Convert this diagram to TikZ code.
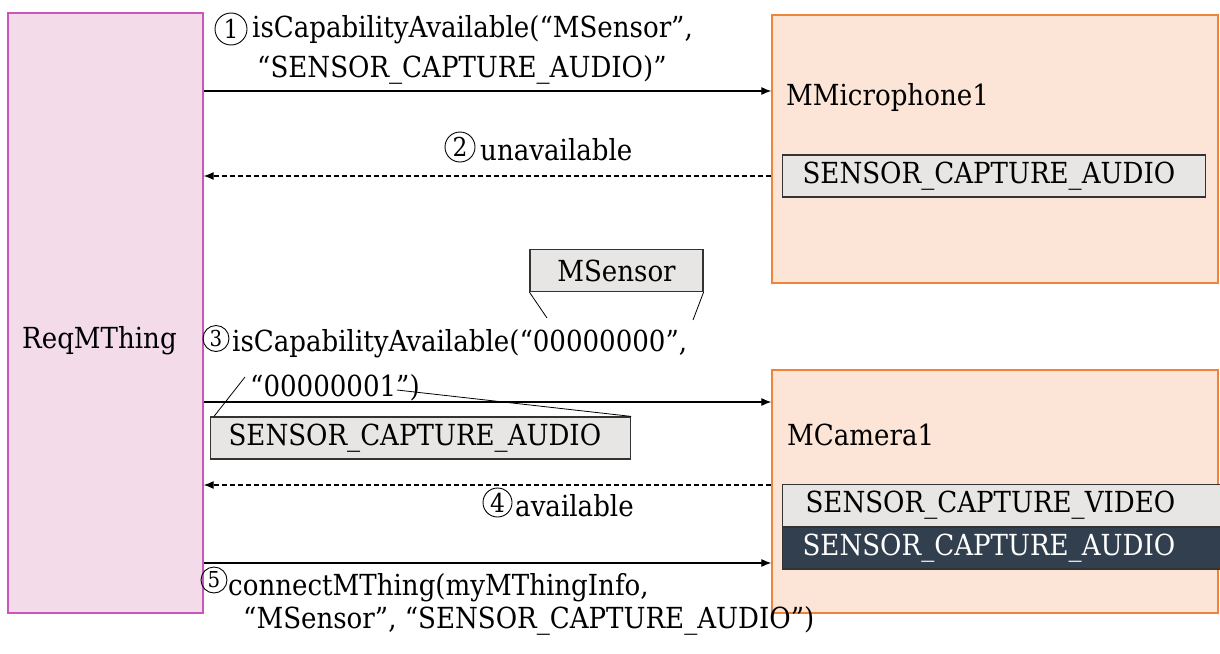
\documentclass[tikz,border=0pt]{standalone}
\usepackage{fontspec}
\setmainfont{DejaVu Serif Condensed}
\usetikzlibrary{positioning}
\usetikzlibrary{arrows.meta}
\definecolor{reqfill}{RGB}{243,219,234}
\definecolor{reqline}{RGB}{200,87,185}
\definecolor{thingfill}{RGB}{252,228,214}
\definecolor{thingline}{RGB}{238,132,58}
\definecolor{capfill}{RGB}{231,230,229}
\definecolor{capdark}{RGB}{50,63,79}

\begin{document}
\begin{tikzpicture}[x=1pt,y=-1pt,font=\fontsize{29}{34}\selectfont,
  req/.style = {draw=reqline, fill=reqfill, line width=1.3pt, minimum width=195pt, minimum height=600pt},
  thing/.style = {draw=thingline, fill=thingfill, line width=1.3pt, minimum width=446pt},
  capbox/.style = {draw=black!80, fill=capfill, line width=1.2pt, anchor=west, minimum height=42pt, inner ysep=0pt, align=left},
  txt/.style = {anchor=base west, inner sep=0pt},
  stepno/.style = {draw, circle, inner sep=0pt, minimum size=30pt, line width=0.9pt, font=\fontsize{26}{26}\selectfont},
  smallstep/.style = {stepno, minimum size=26pt, font=\fontsize{22}{22}\selectfont},
  msg/.style = {-{Latex[length=10pt,width=8pt]}, line width=1.1pt},
  reply/.style = {msg, dash pattern=on 5pt off 3pt}]
  \useasboundingbox (0,0) rectangle (1220,653);
  % boxes
  \node[req] (req) at (105.5,313) {};
  \node[txt] at (22,348) {ReqMThing};
  \node[thing, minimum height=268pt] (mic) at (995,149) {};
  \node[txt] at (786,105) {MMicrophone1};
  \node[capbox, text width=383pt, inner xsep=20pt] (micaudio) at (782,176) {SENSOR\_CAPTURE\_AUDIO};
  \node[thing, minimum height=243pt] (cam) at (995,491.5) {};
  \node[txt] at (787,445) {MCamera1};
  \node[capbox, text width=400pt, inner xsep=23pt] (camvideo) at (782,505.5) {SENSOR\_CAPTURE\_VIDEO};
  \node[capbox, fill=capdark, text=white, text width=403pt, inner xsep=20pt] (camaudio) at (782,548) {SENSOR\_CAPTURE\_AUDIO};
  % message levels
  \coordinate (y1) at (0,91);
  \coordinate (y2) at (0,176);
  \coordinate (y3) at (0,402);
  \coordinate (y4) at (0,485);
  \coordinate (y5) at (0,563);
  \draw[msg] (req.east |- y1) -- (mic.west |- y1);
  \draw[reply] (mic.west |- y2) -- (req.east |- y2);
  \draw[msg] (req.east |- y3) -- (cam.west |- y3);
  \draw[reply] (cam.west |- y4) -- (req.east |- y4);
  \draw[msg] (req.east |- y5) -- (cam.west |- y5);
  % labels
  \node[stepno, minimum size=32pt] (n1) at (231,29) {1};
  \node[txt] (m1a) at (252,37) {isCapabilityAvailable(“MSensor”,};
  \node[txt] (m1b) at (257,77) {“SENSOR\_CAPTURE\_AUDIO)”};
  \node[stepno] (n2) at (460,147) {2};
  \node[txt] (m2) at (480,160) {unavailable};
  \node[smallstep] (n3) at (216,338.5) {3};
  \node[txt] (m3a) at (232,351) {isCapabilityAvailable(“00000000”,};
  \node[txt] (m3b) at (250,396) {“00000001”)};
  \node[stepno, minimum size=29pt] (n4) at (497.5,502.5) {4};
  \node[txt] (m4) at (515,516) {available};
  \node[smallstep] (n5) at (214,580) {5};
  \node[txt] (m5a) at (228,595) {connectMThing(myMThingInfo,};
  \node[txt] (m5b) at (243,628) {“MSensor”, “SENSOR\_CAPTURE\_AUDIO”)};
  % callouts
  \node[capbox, anchor=center, minimum width=173pt, inner xsep=0pt] (msensor) at (616.5,270.5) {MSensor};
  \node[capbox, text width=384pt, inner xsep=18pt] (srcaudio) at (210,438) {SENSOR\_CAPTURE\_AUDIO};
  \coordinate (c1) at (547,318);
  \coordinate (c2) at (693,320);
  \coordinate (c3) at (245,377);
  \coordinate (c4) at (397,390);
  \draw[line width=0.8pt] (msensor.south west) -- (c1);
  \draw[line width=0.8pt] (msensor.south east) -- (c2);
  \draw[line width=0.8pt] ([xshift=4pt]srcaudio.north west) -- (c3);
  \draw[line width=0.8pt] (srcaudio.north east) -- (c4);
\end{tikzpicture}
\end{document}
